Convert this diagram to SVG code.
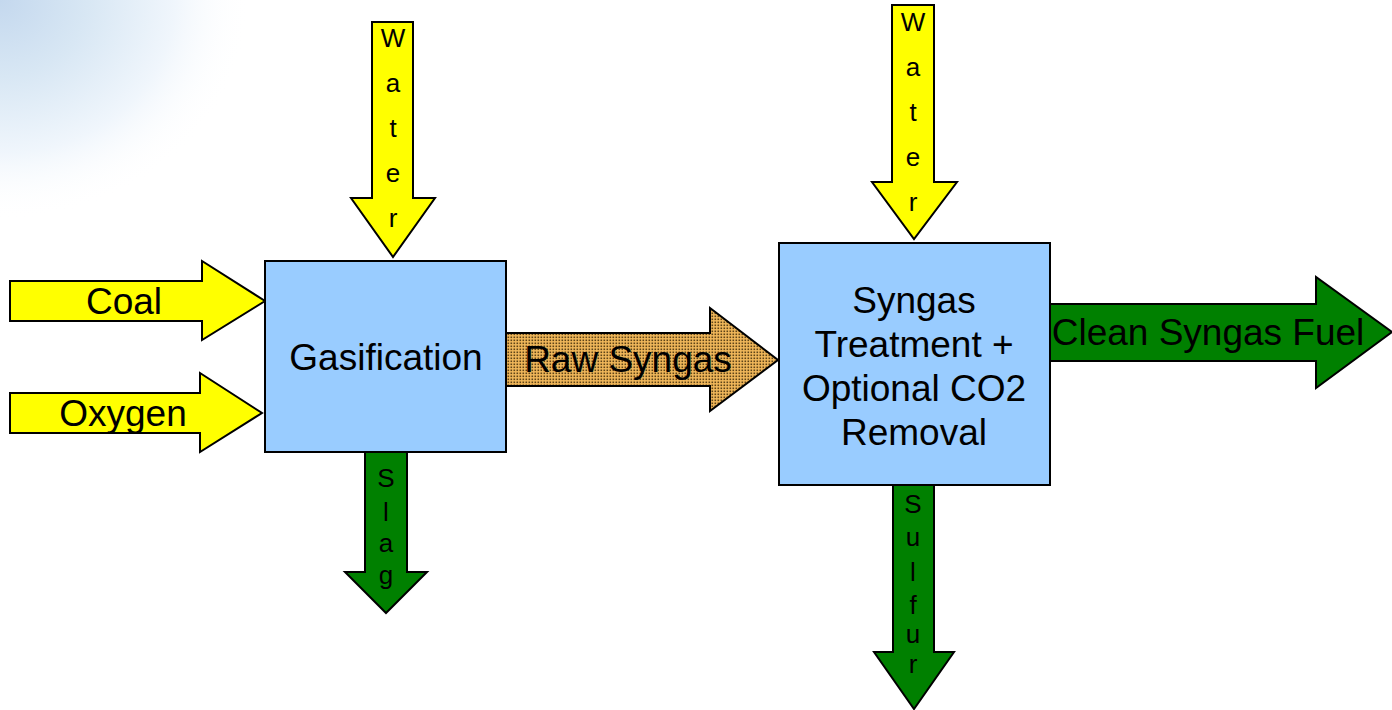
<svg xmlns="http://www.w3.org/2000/svg" width="1392" height="710" viewBox="0 0 1392 710">
<defs>
<radialGradient id="haze" cx="0" cy="0" r="1" gradientUnits="userSpaceOnUse" gradientTransform="translate(0,0) scale(250,220)">
<stop offset="0" stop-color="#C4D8EE"/>
<stop offset="0.35" stop-color="#D8E7F4"/>
<stop offset="0.7" stop-color="#F0F6FC"/>
<stop offset="1" stop-color="#FFFFFF" stop-opacity="0"/>
</radialGradient>
<pattern id="dots" width="3" height="3" patternUnits="userSpaceOnUse">
<rect width="3" height="3" fill="#F2B85A"/>
<rect x="0.5" y="0.5" width="1.6" height="1.6" fill="#5E4418"/>
</pattern>
</defs>
<style>
.yel{fill:#FFFF00;stroke:#000;stroke-width:2;stroke-linejoin:miter}
.grn{fill:#008000;stroke:#000;stroke-width:2}
.box{fill:#99CCFF;stroke:#000;stroke-width:2}
.raw{fill:url(#dots);stroke:#000;stroke-width:2}
.big{font-family:"Liberation Sans",Arial,sans-serif;font-size:37px;fill:#000;text-anchor:middle}
.vt{font-family:"Liberation Sans",Arial,sans-serif;font-size:26px;fill:#000;text-anchor:middle}
</style>
<rect width="1392" height="710" fill="#FFFFFF"/>
<rect width="300" height="260" fill="url(#haze)"/>
<g id="connectors">
<g id="coal">
<polygon class="yel" points="10,281 202,281 202,261 265,301 202,340 202,321 10,321"/>
<text class="big" x="124" y="314">Coal</text>
</g>
<g id="oxygen">
<polygon class="yel" points="10,393 200,393 200,373 262,413 200,452 200,433 10,433"/>
<text class="big" x="123" y="426">Oxygen</text>
</g>
<g id="water1">
<polygon class="yel" points="372,22 413,22 413,198 435,198 393,257 351,198 372,198"/>
<text class="vt" x="393" y="47">W</text>
<text class="vt" x="393" y="92">a</text>
<text class="vt" x="393" y="137">t</text>
<text class="vt" x="393" y="182">e</text>
<text class="vt" x="393" y="227">r</text>
</g>
<g id="water2">
<polygon class="yel" points="892,5 934,5 934,182 957,182 914,239 872,182 892,182"/>
<text class="vt" x="913" y="31">W</text>
<text class="vt" x="913" y="76">a</text>
<text class="vt" x="913" y="121">t</text>
<text class="vt" x="913" y="166">e</text>
<text class="vt" x="913" y="211">r</text>
</g>
<g id="slag">
<polygon class="grn" points="365,452 407,452 407,572 427,572 386,613 345,572 365,572"/>
<text class="vt" x="386" y="487">S</text>
<text class="vt" x="386" y="521">l</text>
<text class="vt" x="386" y="552">a</text>
<text class="vt" x="386" y="584">g</text>
</g>
<g id="sulfur">
<polygon class="grn" points="893,485 934,485 934,652 954,652 914,709 874,652 893,652"/>
<text class="vt" x="913" y="513">S</text>
<text class="vt" x="913" y="546">u</text>
<text class="vt" x="913" y="581">l</text>
<text class="vt" x="913" y="614">f</text>
<text class="vt" x="913" y="643">u</text>
<text class="vt" x="913" y="673">r</text>
</g>
<g id="raw-syngas">
<polygon class="raw" points="506,333 710,333 710,308 778,360 710,411 710,386 506,386"/>
<text class="big" x="628" y="372">Raw Syngas</text>
</g>
<g id="clean-syngas">
<polygon class="grn" points="1050,304 1316,304 1316,277 1392,332 1316,388 1316,361 1050,361"/>
<text class="big" x="1208" y="345">Clean Syngas Fuel</text>
</g>
</g>
<g id="gasification">
<rect class="box" x="265" y="261" width="241" height="191"/>
<text class="big" x="386" y="370">Gasification</text>
</g>
<g id="syngas-treatment">
<rect class="box" x="779" y="243" width="271" height="242"/>
<text class="big" x="914" y="313">Syngas</text>
<text class="big" x="914" y="357">Treatment +</text>
<text class="big" x="914" y="401">Optional CO2</text>
<text class="big" x="914" y="445">Removal</text>
</g>
</svg>
